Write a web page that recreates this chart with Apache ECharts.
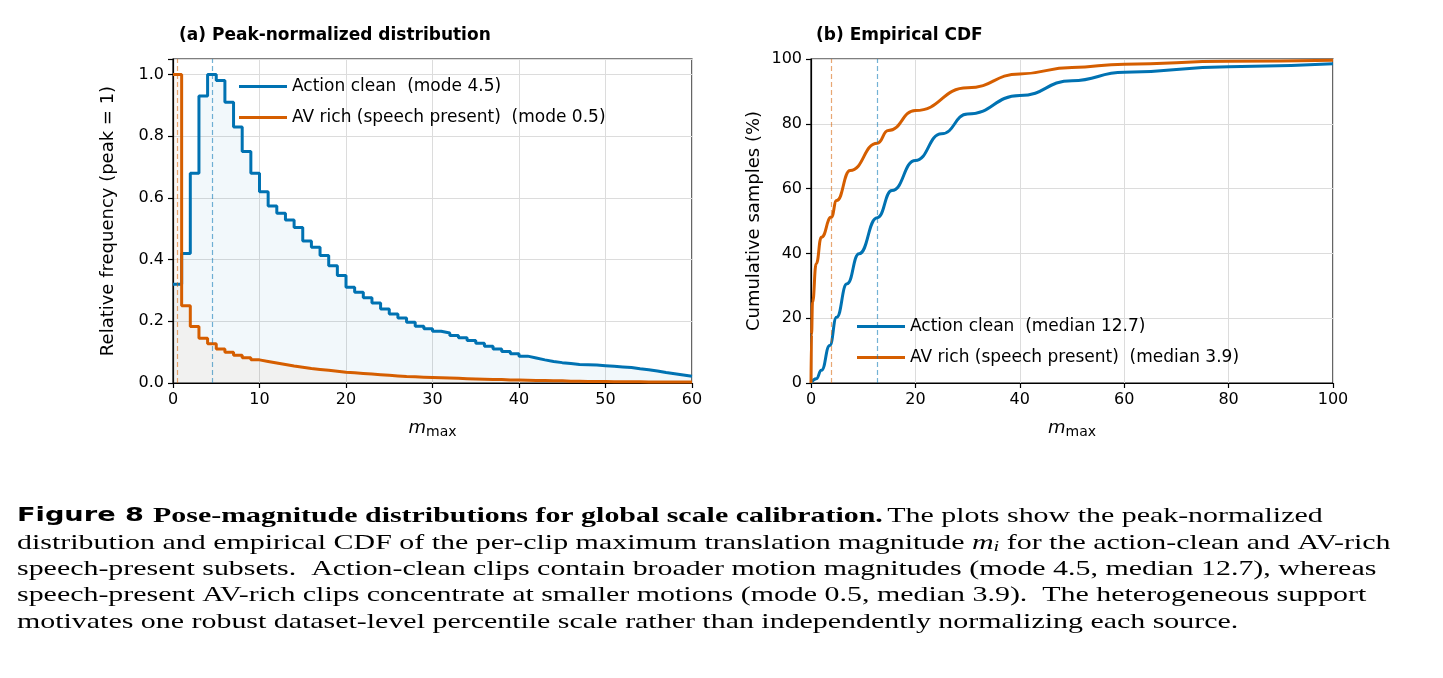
<!DOCTYPE html>
<html>
<head>
<meta charset="utf-8">
<script src="https://cdn.jsdelivr.net/npm/echarts@6/dist/echarts.min.js"></script>
<style>html,body{margin:0;background:#fff}#c{width:1443px;height:678px}</style>
</head>
<body>
<div id="c"></div>
<script>
// 直方图的 bin 宽度为 1，从 0 到 60
const actionHist = [0.32,0.42,0.68,0.93,1.0,0.98,0.91,0.83,0.75,0.68,0.62,0.574,0.55,0.528,0.504,0.46,0.44,0.413,0.38,0.348,
	0.31,0.294,0.276,0.259,0.24,0.224,0.211,0.197,0.184,0.176,0.168,0.162,0.154,0.147,0.138,0.129,0.119,0.11,0.102,0.095,
	0.087,0.081,0.075,0.07,0.066,0.063,0.06,0.059,0.058,0.056,0.054,0.052,0.05,0.046,0.043,0.039,0.034,0.03,0.026,0.022];
const avHist = [1.0,0.25,0.183,0.145,0.127,0.11,0.1,0.09,0.082,0.075,0.07,0.065,0.06,0.055,0.051,0.047,0.044,0.041,0.038,0.035,
	0.033,0.031,0.029,0.027,0.025,0.023,0.021,0.02,0.019,0.018,0.017,0.016,0.015,0.014,0.013,0.012,0.011,0.011,0.01,0.01,
	0.009,0.008,0.008,0.007,0.007,0.006,0.006,0.005,0.005,0.005,0.004,0.004,0.004,0.004,0.003,0.003,0.003,0.003,0.003,0.003];
// CDF 曲线 [m, %]
const actionCdf = [[0,0],[1,1.3],[2,3.9],[3.6,11.6],[4.9,20.3],[6.9,30.6],[9.2,39.9],[12.7,51],[15.5,59.4],[20,68.7],
	[25,76.9],[30,83],[40,88.7],[50,93.3],[60,95.9],[80,97.6],[100,98.5]];
const avCdf = [[0,0],[0.1,15],[0.3,25],[1,36.8],[2,45],[3.9,51.2],[4.9,56.3],[7.5,65.6],[12.7,74],[14.8,77.9],[20,84.1],
	[30,91.1],[40,95.4],[50,97.4],[60,98.4],[80,99.3],[100,99.6]];
const modes = {action: 4.5, av: 0.5};
const medians = {action: 12.7, av: 3.9};

const BLUE = '#0072B2', ORANGE = '#D55E00';
const toSteps = h => h.map((v, i) => [i, v]).concat([[h.length, h[h.length - 1]]]);

const axisLabel = {color: '#000', fontSize: 16, fontFamily: 'DejaVu Sans', margin: 9};
const splitLine = {show: true, lineStyle: {color: '#dcdcdc', width: 1}};
const axisTick = {show: true, length: 5, lineStyle: {color: '#000', width: 1.2}};
const axisLine = {show: true, lineStyle: {color: '#000', width: 1.2}};
const xName = {
	name: '{i|m}{s|max}', nameLocation: 'middle', nameGap: 34,
	nameTextStyle: {rich: {i: {fontStyle: 'italic', fontSize: 18, fontFamily: 'DejaVu Sans'}, s: {fontSize: 14, fontFamily: 'DejaVu Sans', padding: [8, 0, 0, 0]}}}
};
const dashLine = (x, color) => ({
	type: 'line', data: [], silent: true,
	markLine: {symbol: 'none', silent: true, label: {show: false},
		lineStyle: {color: color, type: [5, 3], width: 1.2, opacity: 0.55}, data: [{xAxis: x}]}
});
const legendText = {fontSize: 17, fontFamily: 'DejaVu Sans', color: '#000'};

const chart = echarts.init(document.getElementById('c'), null, {renderer: 'canvas'});
const caption = [
	'{b|Figure 8}  {t|Pose-magnitude distributions for global scale calibration.} {n|The plots show the peak-normalized}',
	'{n|distribution and empirical CDF of the per-clip maximum translation magnitude }{i|m}{sub|i}{n| for the action-clean and AV-rich}',
	'{n|speech-present subsets.  Action-clean clips contain broader motion magnitudes (mode 4.5, median 12.7), whereas}',
	'{n|speech-present AV-rich clips concentrate at smaller motions (mode 0.5, median 3.9).  The heterogeneous support}',
	'{n|motivates one robust dataset-level percentile scale rather than independently normalizing each source.}'
];
const rich = {
	b: {fontFamily: 'DejaVu Sans', fontWeight: 'bold', fontSize: 20, fill: '#000'},
	t: {fontFamily: 'Liberation Serif', fontWeight: 'bold', fontSize: 22},
	n: {fontFamily: 'Liberation Serif', fontSize: 22},
	i: {fontFamily: 'Liberation Serif', fontStyle: 'italic', fontSize: 22},
	sub: {fontFamily: 'Liberation Serif', fontStyle: 'italic', fontSize: 15, padding: [8, 0, 0, 0]}
};

chart.setOption({
	animation: false,
	title: [
		{text: '(a) Peak-normalized distribution', left: 174, top: 22, textStyle: {fontSize: 17, fontWeight: 'bold', fontFamily: 'DejaVu Sans', color: '#000'}},
		{text: '(b) Empirical CDF', left: 811, top: 22, textStyle: {fontSize: 17, fontWeight: 'bold', fontFamily: 'DejaVu Sans', color: '#000'}}
	],
	grid: [
		{left: 173, right: 751, top: 59, bottom: 295, show: true, borderColor: '#000', borderWidth: 1.2},
		{left: 811, right: 110, top: 59, bottom: 295, show: true, borderColor: '#000', borderWidth: 1.2}
	],
	legend: [
		{data: ['Action clean  (mode 4.5)', 'AV rich (speech present)  (mode 0.5)'], orient: 'vertical', left: 234, top: 73,
			itemWidth: 48, itemHeight: 3, itemGap: 14, icon: 'rect', textStyle: legendText},
		{data: ['Action clean  (median 12.7)', 'AV rich (speech present)  (median 3.9)'], orient: 'vertical', left: 852, top: 313,
			itemWidth: 48, itemHeight: 3, itemGap: 14, icon: 'rect', textStyle: legendText}
	],
	xAxis: [
		Object.assign({type: 'value', gridIndex: 0, min: 0, max: 60, interval: 10, axisLabel, splitLine, axisTick, axisLine}, xName),
		Object.assign({type: 'value', gridIndex: 1, min: 0, max: 100, interval: 20, axisLabel, splitLine, axisTick, axisLine}, xName)
	],
	yAxis: [
		{type: 'value', gridIndex: 0, min: 0, max: 1.05, interval: 0.2, axisLabel: Object.assign({}, axisLabel, {formatter: v => v > 1.01 ? '' : v.toFixed(1)}),
			splitLine, axisTick, axisLine, name: 'Relative frequency (peak = 1)', nameLocation: 'middle', nameGap: 56,
			nameTextStyle: {fontSize: 18, fontFamily: 'DejaVu Sans', color: '#000'}},
		{type: 'value', gridIndex: 1, min: 0, max: 100, interval: 20, axisLabel, splitLine, axisTick, axisLine,
			name: 'Cumulative samples (%)', nameLocation: 'middle', nameGap: 48,
			nameTextStyle: {fontSize: 18, fontFamily: 'DejaVu Sans', color: '#000'}}
	],
	series: [
		Object.assign(dashLine(modes.av, ORANGE), {xAxisIndex: 0, yAxisIndex: 0}),
		Object.assign(dashLine(modes.action, BLUE), {xAxisIndex: 0, yAxisIndex: 0}),
		{name: 'Action clean  (mode 4.5)', type: 'line', step: 'end', xAxisIndex: 0, yAxisIndex: 0, data: toSteps(actionHist),
			showSymbol: false, color: BLUE, lineStyle: {width: 3}, areaStyle: {color: 'rgba(0,114,178,0.07)'}},
		{name: 'AV rich (speech present)  (mode 0.5)', type: 'line', step: 'end', xAxisIndex: 0, yAxisIndex: 0, data: toSteps(avHist),
			showSymbol: false, color: ORANGE, lineStyle: {width: 3}, areaStyle: {color: 'rgba(213,94,0,0.06)'}},
		Object.assign(dashLine(medians.av, ORANGE), {xAxisIndex: 1, yAxisIndex: 1}),
		Object.assign(dashLine(medians.action, BLUE), {xAxisIndex: 1, yAxisIndex: 1}),
		{name: 'Action clean  (median 12.7)', type: 'line', smooth: 0.5, smoothMonotone: 'x', xAxisIndex: 1, yAxisIndex: 1, data: actionCdf,
			showSymbol: false, color: BLUE, lineStyle: {width: 3}},
		{name: 'AV rich (speech present)  (median 3.9)', type: 'line', smooth: 0.5, smoothMonotone: 'x', xAxisIndex: 1, yAxisIndex: 1, data: avCdf,
			showSymbol: false, color: ORANGE, lineStyle: {width: 3}}
	],
	graphic: caption.map((line, i) => ({
		type: 'text', x: 17, y: 505 + i * 26.5, scaleX: 1.36,
		style: {text: line, rich: rich, fill: '#000'}
	}))
});
</script>
</body>
</html>
